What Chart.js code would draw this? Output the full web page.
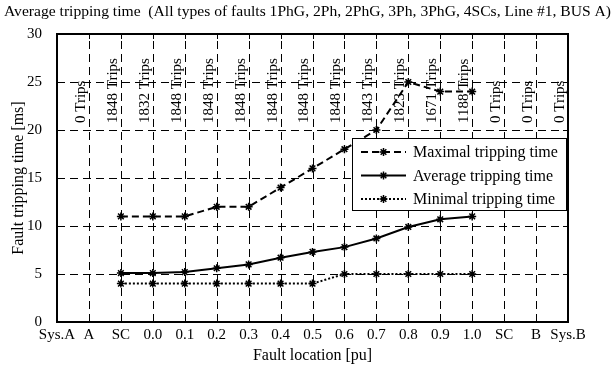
<!DOCTYPE html>
<html>
<head>
<meta charset="utf-8">
<script src="https://cdn.jsdelivr.net/npm/chart.js@4.4.1/dist/chart.umd.min.js"></script>
<style>
  html, body { margin: 0; padding: 0; background: #fff; }
  canvas { display: block; }
</style>
</head>
<body>
<canvas id="trip-chart" width="615" height="365"></canvas>
<script>
// fault locations along the line (x axis)
const locations = ["Sys.A", "A", "SC", "0.0", "0.1", "0.2", "0.3", "0.4", "0.5", "0.6", "0.7", "0.8", "0.9", "1.0", "SC", "B", "Sys.B"];
// tripping times [ms]
const maxTime = [null, null, 11, 11, 11, 12, 12, 14, 16, 18, 20, 25, 24, 24, null, null, null];
const avgTime = [null, null, 5.1, 5.1, 5.2, 5.6, 6.0, 6.7, 7.3, 7.8, 8.7, 9.9, 10.7, 11.0, null, null, null];
const minTime = [null, null, 4, 4, 4, 4, 4, 4, 4, 5, 5, 5, 5, 5, null, null, null];
// number of trips per location
const tripCounts = [null, 0, 1848, 1832, 1848, 1848, 1848, 1848, 1848, 1848, 1843, 1823, 1671, 1188, 0, 0, 0];
const yTicks = [0, 5, 10, 15, 20, 25, 30];
const seriesNames = ["Maximal tripping time", "Average tripping time", "Minimal tripping time"];
const chartTitle = 'Average tripping time  (All types of faults 1PhG, 2Ph, 2PhG, 3Ph, 3PhG, 4SCs, Line #1, BUS A)';

const SERIF = "'Liberation Serif', 'Times New Roman', serif";
const DASHES = [[7, 4], [], [2, 2]];

// dashed grid, frame and inner tick marks (matlab style)
const framePlugin = {
  id: 'frame',
  beforeDatasetsDraw(chart) {
    const {ctx, chartArea: a, scales: {x, y}} = chart;
    ctx.save();
    // title across the whole canvas
    ctx.fillStyle = '#000';
    ctx.font = "15.6px " + SERIF;
    ctx.textAlign = 'center';
    ctx.textBaseline = 'middle';
    ctx.fillText(chartTitle, chart.width / 2, 12, 609);

    ctx.strokeStyle = '#000';
    ctx.lineWidth = 1;
    ctx.setLineDash([8, 5]);
    for (let i = 1; i < locations.length - 1; i++) {
      const px = Math.round(x.getPixelForValue(i)) + 0.5;
      ctx.beginPath(); ctx.moveTo(px, a.bottom); ctx.lineTo(px, a.top); ctx.stroke();
    }
    yTicks.slice(1, -1).forEach(v => {
      const py = Math.round(y.getPixelForValue(v)) + 0.5;
      ctx.beginPath(); ctx.moveTo(a.left, py); ctx.lineTo(a.right, py); ctx.stroke();
    });
    ctx.setLineDash([]);
    for (let i = 1; i < locations.length - 1; i++) {
      const px = Math.round(x.getPixelForValue(i)) + 0.5;
      ctx.beginPath();
      ctx.moveTo(px, a.top); ctx.lineTo(px, a.top + 5);
      ctx.moveTo(px, a.bottom); ctx.lineTo(px, a.bottom - 5);
      ctx.stroke();
    }
    yTicks.slice(1, -1).forEach(v => {
      const py = Math.round(y.getPixelForValue(v)) + 0.5;
      ctx.beginPath();
      ctx.moveTo(a.left, py); ctx.lineTo(a.left + 5, py);
      ctx.moveTo(a.right, py); ctx.lineTo(a.right - 5, py);
      ctx.stroke();
    });

    // trip counts, vertical text left of each grid line
    ctx.font = "15px " + SERIF;
    ctx.textAlign = 'left';
    ctx.textBaseline = 'middle';
    const startY = y.getPixelForValue(20) - 7;
    tripCounts.forEach((n, i) => {
      if (n === null) return;
      ctx.save();
      ctx.translate(x.getPixelForValue(i) - 8, startY);
      ctx.rotate(-Math.PI / 2);
      ctx.fillText(n + " Trips", 0, 0);
      ctx.restore();
    });
    ctx.restore();
  },
  afterDatasetsDraw(chart) {
    const {ctx, chartArea: a} = chart;
    ctx.save();
    // frame
    ctx.strokeStyle = '#000';
    ctx.lineWidth = 2;
    ctx.strokeRect(a.left, a.top, a.right - a.left, a.bottom - a.top);

    // legend box
    const bw = 214, bh = 72;
    const bx = a.right - bw - 2, by = a.top + 104;
    ctx.fillStyle = '#fff';
    ctx.fillRect(bx, by, bw, bh);
    ctx.lineWidth = 1;
    ctx.strokeRect(bx + 0.5, by + 0.5, bw, bh);
    ctx.font = "16px " + SERIF;
    ctx.textBaseline = 'middle';
    ctx.textAlign = 'left';
    seriesNames.forEach((name, k) => {
      const ly = by + 14 + k * 23.5;
      ctx.strokeStyle = '#000';
      ctx.lineWidth = 2;
      ctx.setLineDash(DASHES[k]);
      ctx.beginPath(); ctx.moveTo(bx + 9, ly); ctx.lineTo(bx + 54, ly); ctx.stroke();
      ctx.setLineDash([]);
      ctx.lineWidth = 1.5;
      Chart.helpers.drawPoint(ctx, {pointStyle: 'star', radius: 4, rotation: 0}, bx + 31.5, ly);
      ctx.stroke();
      ctx.fillStyle = '#000';
      ctx.fillText(name, bx + 61, ly + 1);
    });
    ctx.restore();
  }
};

function series(label, data, dash) {
  return {
    label: label,
    data: data,
    borderColor: '#000',
    backgroundColor: '#000',
    borderWidth: 2,
    borderDash: dash,
    pointStyle: 'star',
    pointRadius: 4,
    pointBorderWidth: 1.5,
    pointBorderColor: '#000',
    pointBackgroundColor: '#000',
    tension: 0
  };
}

new Chart(document.getElementById("trip-chart"), {
  type: 'line',
  data: {
    labels: locations,
    datasets: [
      series(seriesNames[0], maxTime, DASHES[0]),
      series(seriesNames[1], avgTime, DASHES[1]),
      series(seriesNames[2], minTime, DASHES[2])
    ]
  },
  options: {
    responsive: false,
    animation: false,
    layout: { padding: { left: 0, right: 47, top: 34, bottom: 0 } },
    plugins: {
      legend: { display: false },
      tooltip: { enabled: false },
      title: { display: false }
    },
    scales: {
      x: {
        offset: false,
        grid: { display: false },
        border: { display: false },
        ticks: { color: '#000', font: { family: SERIF, size: 15 }, padding: -4, maxRotation: 0, autoSkip: false },
        title: { display: true, text: 'Fault location [pu]', color: '#000', font: { family: SERIF, size: 16 }, padding: { top: 0, bottom: 0 } },
        afterFit: s => { s.height = 43; }
      },
      y: {
        min: 0,
        max: 30,
        grid: { display: false },
        border: { display: false },
        afterBuildTicks: s => { s.ticks = yTicks.map(v => ({ value: v })); },
        ticks: { color: '#000', font: { family: SERIF, size: 15 }, padding: 7 },
        title: { display: true, text: 'Fault tripping time [ms]', color: '#000', font: { family: SERIF, size: 16 }, padding: { top: 9, bottom: 0 } },
        afterFit: s => { s.width = 57; }
      }
    }
  },
  plugins: [framePlugin]
});
</script>
</body>
</html>
